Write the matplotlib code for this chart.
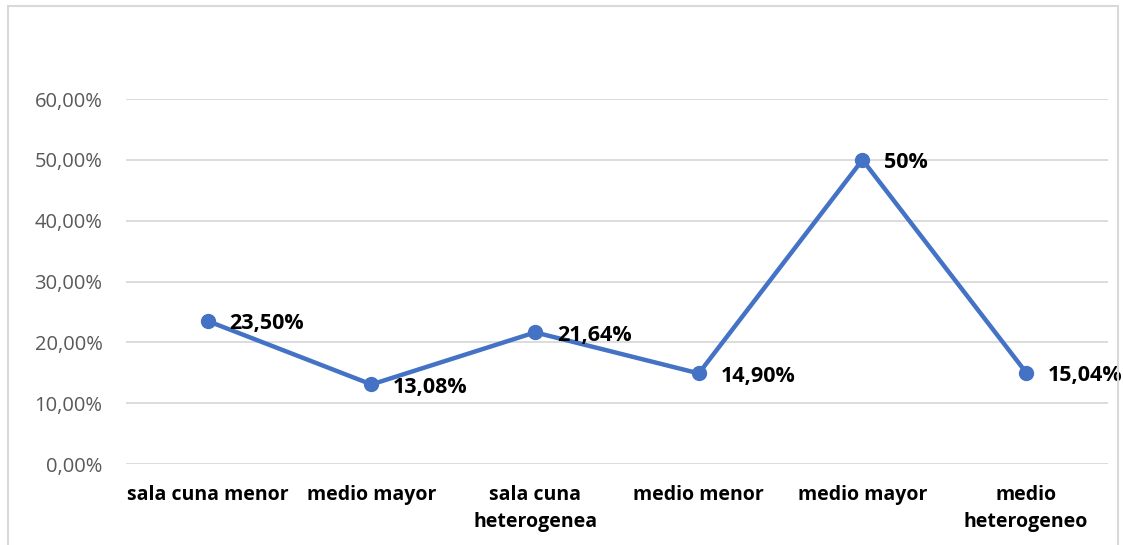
import matplotlib.pyplot as plt
from matplotlib.patches import Rectangle

# categories and values
categories = ["sala cuna menor", "medio mayor", "sala cuna\nheterogenea",
              "medio menor", "medio mayor", "medio\nheterogeneo"]
values = [0.2350, 0.1308, 0.2164, 0.1490, 0.50, 0.1504]
value_labels = ["23,50%", "13,08%", "21,64%", "14,90%", "50%", "15,04%"]
y_ticks = [0.0, 0.1, 0.2, 0.3, 0.4, 0.5, 0.6]
y_tick_labels = ["0,00%", "10,00%", "20,00%", "30,00%", "40,00%", "50,00%", "60,00%"]

plt.rcParams["font.family"] = ["Open Sans", "DejaVu Sans"]

fig = plt.figure(figsize=(11.23, 5.45), dpi=100)
ax = fig.add_axes([0.1122, 0.1486, 0.8744, 0.6697])

x = list(range(len(categories)))
ax.plot(x, values, color="#4472C4", linewidth=3.2, marker="o",
        markersize=10, zorder=3, clip_on=False)

for xi, yi, lab in zip(x, values, value_labels):
    ax.annotate(lab, (xi, yi), xytext=(15.5, -2), textcoords="offset points",
                ha="left", va="center", fontsize=15.5, fontweight="bold",
                color="black", zorder=4)

ax.set_xlim(-0.5, len(categories) - 0.5)
ax.set_ylim(0, 0.6)
ax.set_yticks(y_ticks)
ax.set_yticklabels(y_tick_labels, fontsize=14.5, color="#595959")
ax.set_xticks(x)
ax.set_xticklabels(categories, fontsize=14, fontweight="bold", color="black",
                   linespacing=1.45, va="top")
ax.tick_params(axis="both", length=0)
ax.tick_params(axis="y", pad=17)
ax.tick_params(axis="x", pad=15)

ax.grid(True, axis="y", color="#D9D9D9", linewidth=1.3)
ax.set_axisbelow(True)
for s in ax.spines.values():
    s.set_visible(False)

# light chart border
fig.patches.append(Rectangle((8 / 1123, -0.05), 1110 / 1123, 1.05 - 6 / 545,
                             transform=fig.transFigure, fill=False,
                             edgecolor="#D9D9D9", linewidth=1.5))

fig.savefig("out.png", dpi=100)
